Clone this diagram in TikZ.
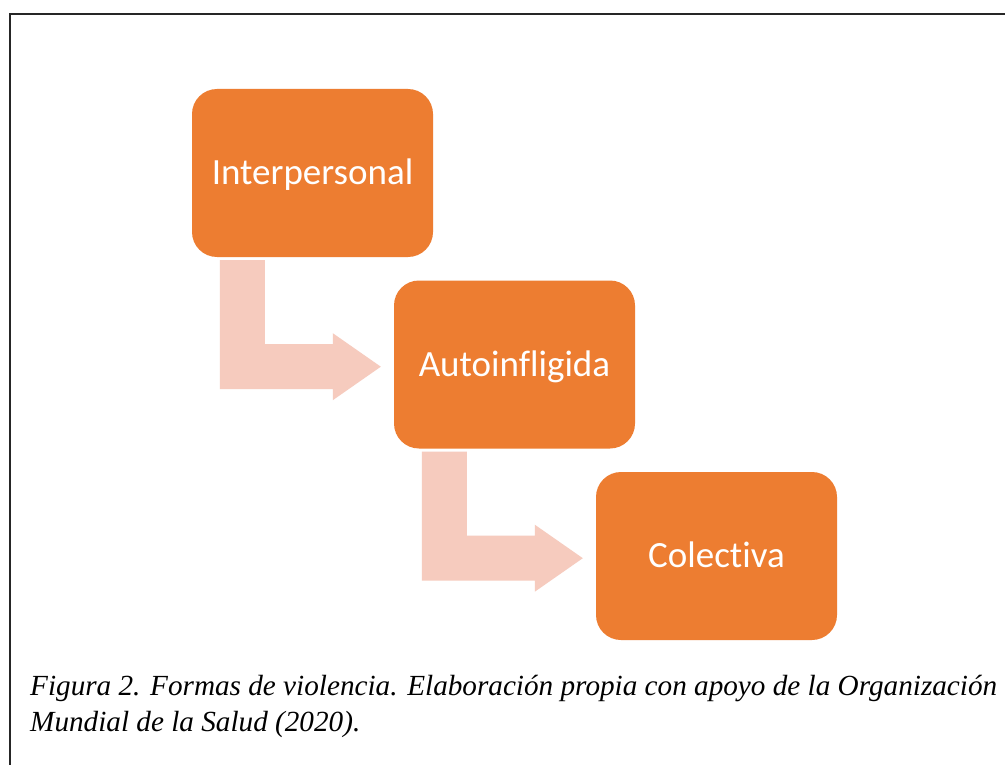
\documentclass[tikz,border=0pt]{standalone}
\usepackage{fontspec}
\setmainfont{Liberation Serif}
\newfontfamily\boxfont[Ligatures=NoCommon]{Carlito}
\usetikzlibrary{calc}
\definecolor{boxorange}{HTML}{ED7D31}
\definecolor{arrowtint}{HTML}{F6CBBE}
\begin{document}
\begin{tikzpicture}[x=1pt,y=-1pt,
  stepbox/.style={rectangle, rounded corners=25pt, fill=boxorange, draw=none,
    minimum width=241pt, minimum height=168pt, inner sep=0pt,
    text=white, font=\boxfont\fontsize{37}{44}\selectfont,
    text height=23pt, text depth=0pt},
  captext/.style={anchor=base west, inner sep=0pt,
    font=\itshape\fontsize{29.2}{36}\selectfont},
  frameline/.style={line width=2pt, draw=black!85},
  bentarrow/.pic={
    \fill[arrowtint] (28,3) -- (73,3) -- (73,87) -- (141,87) -- (141,76)
      -- (189,109.5) -- (141,143) -- (141,132) -- (28,132) -- cycle;
  }]
\useasboundingbox (0,0) rectangle (1005,765);
\fill[white] (0,0) rectangle (1005,765);
\coordinate (fbl) at (9.5,765);
\coordinate (ftl) at (9.5,14.5);
\coordinate (ftr) at (1005,14.5);
\draw[frameline] (fbl) -- (ftl) -- (ftr);

\node[stepbox] (b1) at (312.5,173) {Interpersonal};
\node[stepbox] (b2) at (514.5,364.5) {Autoinfligida};
\node[stepbox] (b3) at (716.5,556) {Colectiva};

\pic at (b1.south west) {bentarrow};
\pic at (b2.south west) {bentarrow};

\node[captext] (cap1) at (30,695) {Figura 2. Formas de violencia. Elaboración propia con apoyo de la Organización};
\node[captext] (cap2) at (30,731) {Mundial de la Salud (2020).};
\end{tikzpicture}
\end{document}
